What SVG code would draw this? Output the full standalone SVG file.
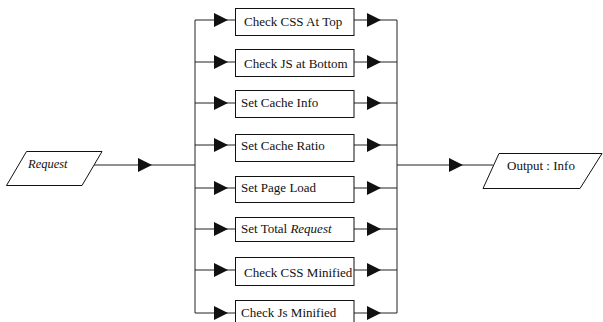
<svg xmlns="http://www.w3.org/2000/svg" xmlns:xlink="http://www.w3.org/1999/xlink" width="603" height="322" viewBox="0 0 603 322">
<style>
.ln{stroke:#222;stroke-width:1;fill:none}
.bx{fill:#fff;stroke:#111;stroke-width:1}
text{font-family:'Liberation Serif','DejaVu Serif','Times New Roman',Times,serif;font-size:13px;fill:#111}
.it{font-style:italic}
</style>
<defs>
<path id="ah" d="M-14,-7 L0,0 L-14,7 Z" fill="#111"/>
</defs>
<rect width="603" height="322" fill="#fff"/>
<g id="connectors">
<path class="ln" d="M94,165 H195 M195,20 V313 M397,20 V313 M397,165 H493"/>
<path class="ln" d="M195,20 H235 M195,62 H235 M195,103 H235 M195,145 H235 M195,188 H235 M195,229 H235 M195,270 H235 M195,313 H235"/>
<path class="ln" d="M354,20 H397 M354,62 H397 M354,103 H397 M354,145 H397 M354,188 H397 M354,229 H397 M354,270 H397 M354,313 H397"/>
<use xlink:href="#ah" x="152" y="165"/>
<use xlink:href="#ah" x="463" y="165"/>
<use xlink:href="#ah" x="228" y="20"/><use xlink:href="#ah" x="228" y="62"/><use xlink:href="#ah" x="228" y="103"/><use xlink:href="#ah" x="228" y="145"/><use xlink:href="#ah" x="228" y="188"/><use xlink:href="#ah" x="228" y="229"/><use xlink:href="#ah" x="228" y="270"/><use xlink:href="#ah" x="228" y="313"/>
<use xlink:href="#ah" x="381" y="20"/><use xlink:href="#ah" x="381" y="62"/><use xlink:href="#ah" x="381" y="103"/><use xlink:href="#ah" x="381" y="145"/><use xlink:href="#ah" x="381" y="188"/><use xlink:href="#ah" x="381" y="229"/><use xlink:href="#ah" x="381" y="270"/><use xlink:href="#ah" x="381" y="313"/>
</g>
<g id="request">
<polygon class="bx" points="26.5,151.5 102,151.5 82,185.5 6.5,185.5"/>
<text class="it" x="28" y="168" style="font-size:12.5px">Request</text>
</g>
<g id="output">
<polygon class="bx" points="499,153.5 602,153.5 580,188.5 483,188.5"/>
<text x="507" y="170">Output : Info</text>
</g>
<g id="n1"><rect class="bx" x="235.5" y="8.5" width="118.5" height="27"/><text x="244" y="26">Check CSS At Top</text></g>
<g id="n2"><rect class="bx" x="235.5" y="49.5" width="118.5" height="27"/><text x="244" y="68">Check JS at Bottom</text></g>
<g id="n3"><rect class="bx" x="235.5" y="90.5" width="118.5" height="27"/><text x="241" y="107">Set Cache Info</text></g>
<g id="n4"><rect class="bx" x="235.5" y="134.5" width="118.5" height="27"/><text x="241" y="150">Set Cache Ratio</text></g>
<g id="n5"><rect class="bx" x="235.5" y="176.5" width="118.5" height="26"/><text x="241" y="192">Set Page Load</text></g>
<g id="n6"><rect class="bx" x="235.5" y="217.5" width="118.5" height="24"/><text x="241" y="233">Set Total <tspan class="it">Request</tspan></text></g>
<g id="n7"><rect class="bx" x="235.5" y="257.5" width="118.5" height="28"/><text x="244" y="277">Check CSS Minified</text></g>
<g id="n8"><rect class="bx" x="235.5" y="300.5" width="118.5" height="28"/><text x="241" y="317">Check Js Minified</text></g>
</svg>
